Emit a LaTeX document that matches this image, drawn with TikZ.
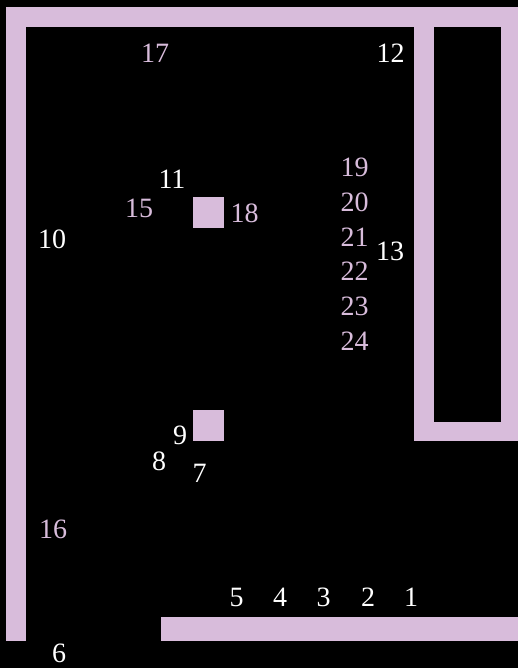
\documentclass[tikz,border=0pt]{standalone}
\usepackage{fontspec}
\setmainfont{Liberation Serif}
\definecolor{lilac}{RGB}{216,188,219}
\begin{document}
\begin{tikzpicture}[x=1pt,y=-1pt,
  wall/.style={fill=lilac,draw=none},
  lbl/.style={inner sep=0pt,anchor=center,font=\fontsize{28}{30}\selectfont},
  wlbl/.style={lbl,text=white},
  plbl/.style={lbl,text=lilac}]
\fill[black] (0,0) rectangle (518,668);
\useasboundingbox (0,0) rectangle (518,668);
% walls
\path[wall] (6,7) rectangle (518,27);
\path[wall] (6,7) rectangle (26,641);
\path[wall] (414,7) rectangle (434,441);
\path[wall] (501,7) rectangle (518,441);
\path[wall] (414,422) rectangle (518,441);
\path[wall] (161,617) rectangle (518,641);
% blocks
\path[wall] (193,197) rectangle (224,228);
\path[wall] (193,410) rectangle (224,441);
% white labels
\node[wlbl] (n1) at (411,597) {1};
\node[wlbl] (n2) at (368,597) {2};
\node[wlbl] (n3) at (323.5,597) {3};
\node[wlbl] (n4) at (280,597) {4};
\node[wlbl] (n5) at (236.5,597) {5};
\node[wlbl] (n6) at (59,653.5) {6};
\node[wlbl] (n7) at (199.5,473) {7};
\node[wlbl] (n8) at (159,461.5) {8};
\node[wlbl] (n9) at (180,435) {9};
\node[wlbl] (n10) at (52,239) {10};
\node[wlbl] (n11) at (172,179) {11};
\node[wlbl] (n12) at (390.5,53) {12};
\node[wlbl] (n13) at (390,251) {13};
% lilac labels
\node[plbl] (n15) at (139,208) {15};
\node[plbl] (n16) at (53,529) {16};
\node[plbl] (n17) at (155,53) {17};
\node[plbl] (n18) at (244.5,213.5) {18};
\node[plbl] (n19) at (354.5,167) {19};
\node[plbl] (n20) at (354.5,202) {20};
\node[plbl] (n21) at (354.5,237) {21};
\node[plbl] (n22) at (354.5,271.5) {22};
\node[plbl] (n23) at (354.5,306.5) {23};
\node[plbl] (n24) at (354.5,341.5) {24};
\end{tikzpicture}
\end{document}
